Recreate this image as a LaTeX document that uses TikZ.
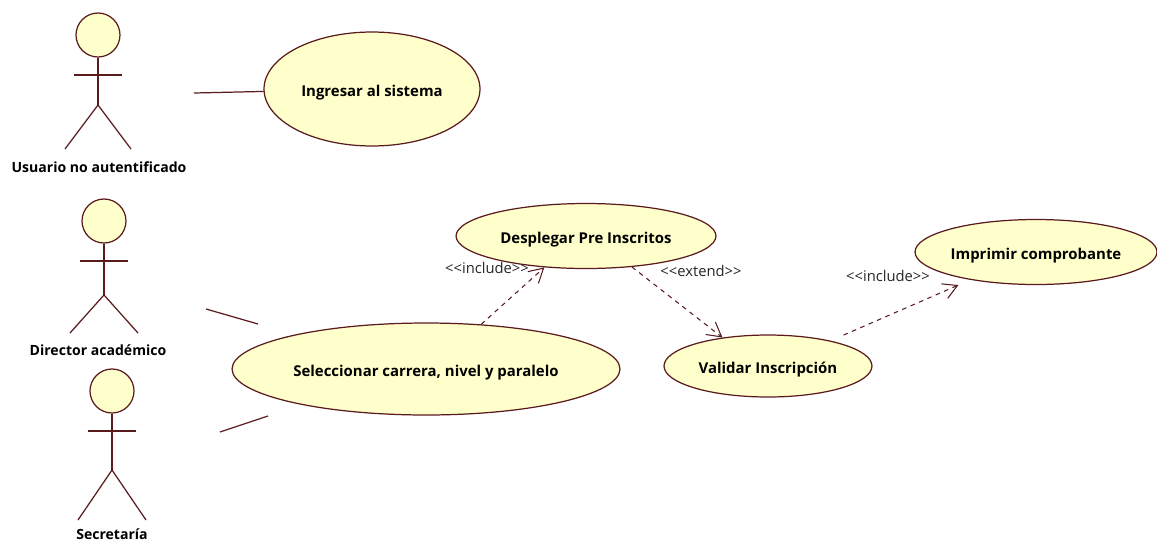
\documentclass[tikz,border=0pt]{standalone}
\usepackage{fontspec}
\setmainfont{Open Sans}
\usetikzlibrary{shapes.geometric,arrows.meta}
\definecolor{umlline}{HTML}{5A1A1E}
\definecolor{umlfill}{HTML}{FFFFCB}
\tikzset{
  usecase/.style={draw=umlline, line width=0.7pt, fill=umlfill, ellipse, inner sep=0pt, text height=1.75ex, text depth=0.1ex, font=\fontsize{8.5}{10}\selectfont\bfseries},
  actorhead/.style={draw=umlline, line width=0.7pt, fill=umlfill, circle, inner sep=0pt, minimum size=0.88cm},
  actorlabel/.style={inner sep=0pt, font=\fontsize{8}{9}\selectfont\bfseries},
  stereotype/.style={font=\fontsize{8.4}{9}\selectfont, text=black!85},
  assoc/.style={draw=umlline, line width=0.7pt},
  dep/.style={draw=umlline, line width=0.6pt, dash pattern=on 2.6pt off 2.6pt, -{Straight Barb[length=8pt,width=9pt]}},
}
\begin{document}
\begin{tikzpicture}[x=0.02cm, y=-0.02cm]
  \useasboundingbox (0,0) rectangle (1157,542);
  % actors
  \foreach \name/\cx/\cy/\dx/\hip/\foot in {usuario/98/35/33/105/149, director/104/221/34/295/333, secretaria/112/391/34/470/520} {
    \node[actorhead] (\name) at (\cx,\cy) {};
    \coordinate (\name hip) at (\cx,\hip);
    \coordinate (\name arml) at (\cx-24,\cy+40);
    \coordinate (\name armr) at (\cx+24,\cy+40);
    \coordinate (\name legl) at (\cx-\dx,\foot);
    \coordinate (\name legr) at (\cx+\dx,\foot);
    \draw[assoc] (\name) -- (\name hip);
    \draw[assoc] (\name arml) -- (\name armr);
    \draw[assoc] (\name legl) -- (\name hip) -- (\name legr);
  }
  \node[actorlabel] (usuariolabel) at (99,167) {Usuario no autentificado};
  \node[actorlabel] (directorlabel) at (98,350) {Director académico};
  \node[actorlabel] (secretarialabel) at (112,534) {Secretaría};

  % use cases
  \node[usecase, minimum width=4.32cm, minimum height=2.28cm] (ingresar) at (372,89) {Ingresar al sistema};
  \node[usecase, minimum width=5.2cm, minimum height=1.3cm] (desplegar) at (586,236) {Desplegar Pre Inscritos};
  \node[usecase, minimum width=4.16cm, minimum height=1.24cm] (validar) at (768,366) {Validar Inscripción};
  \node[usecase, minimum width=4.84cm, minimum height=1.3cm] (imprimir) at (1036,252) {Imprimir comprobante};
  \node[usecase, minimum width=7.76cm, minimum height=1.84cm] (seleccionar) at (426,369) {Seleccionar carrera, nivel y paralelo};

  % associations
  \coordinate (usuarioend) at (194,93);
  \coordinate (directorend) at (206,309);
  \coordinate (directortip) at (258,324);
  \coordinate (secretariaend) at (220,432);
  \coordinate (secretariatip) at (268,416);
  \draw[assoc] (usuarioend) -- (ingresar);
  \draw[assoc] (directorend) -- (directortip);
  \draw[assoc] (secretariaend) -- (secretariatip);

  % dependencies
  \draw[dep] (seleccionar.39) -- (desplegar.217);
  \draw[dep] (desplegar.326) -- (validar.148);
  \draw[dep, shorten <=8pt, shorten >=7.4pt] (validar.22) -- (imprimir.203.6);
  \node[stereotype] (includeone) at (487,268) {{<}{<}include{>}{>}};
  \node[stereotype] (extendone) at (701,271) {{<}{<}extend{>}{>}};
  \node[stereotype] (includetwo) at (888,276) {{<}{<}include{>}{>}};
\end{tikzpicture}
\end{document}
